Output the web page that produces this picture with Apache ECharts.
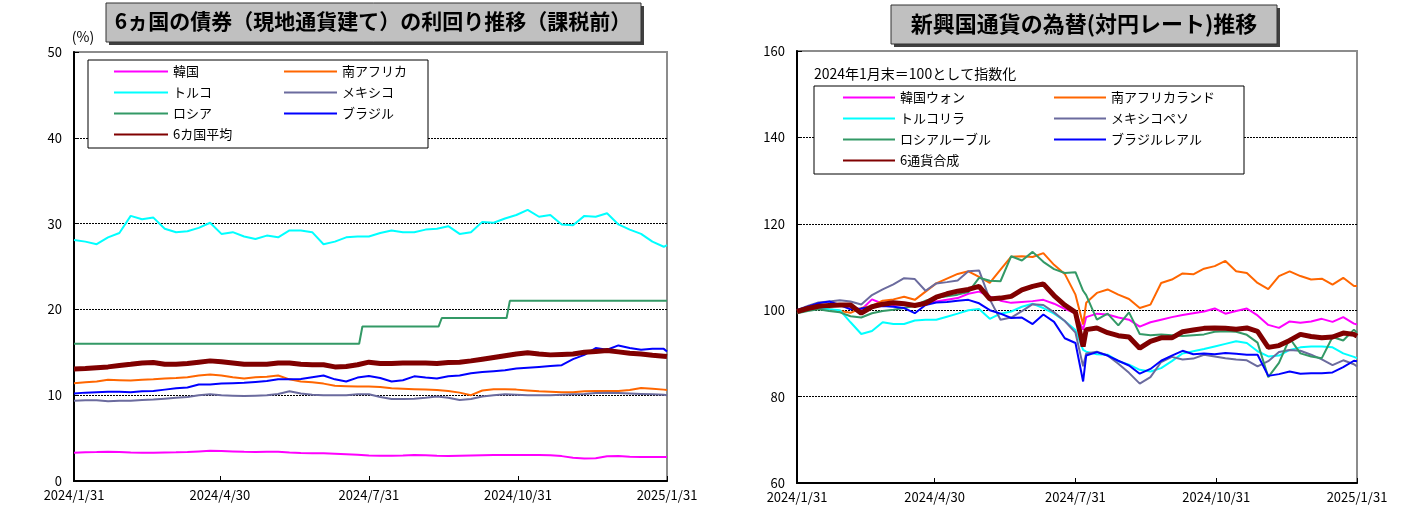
<!DOCTYPE html>
<html><head><meta charset="utf-8">
<script src="https://cdn.jsdelivr.net/npm/echarts@6/dist/echarts.min.js"></script>
<style>html,body{margin:0;padding:0;background:#fff}#c{width:1407px;height:509px}</style>
</head><body><div id="c"></div><script>
const xTickLabels = ['2024/1/31','2024/4/30','2024/7/31','2024/10/31','2025/1/31'];
const xTickDates = ['2024-01-31','2024-04-30','2024-07-31','2024-10-31','2025-01-31'];
const bondTicks = [0,10,20,30,40,50];
const fxTicks = [60,80,100,120,140,160];

const bondNames = ['韓国','南アフリカ','トルコ','メキシコ','ロシア','ブラジル','6カ国平均'];
const fxNames = ['韓国ウォン','南アフリカランド','トルコリラ','メキシコペソ','ロシアルーブル','ブラジルレアル','6通貨合成'];

const weekDates = ['2024-01-31','2024-02-07','2024-02-14','2024-02-21','2024-02-28','2024-03-06','2024-03-13','2024-03-20','2024-03-27','2024-04-03','2024-04-10','2024-04-17','2024-04-24','2024-05-01','2024-05-08','2024-05-15','2024-05-22','2024-05-29','2024-06-05','2024-06-12','2024-06-19','2024-06-26','2024-07-03','2024-07-10','2024-07-17','2024-07-24','2024-07-31','2024-08-07','2024-08-14','2024-08-21','2024-08-28','2024-09-04','2024-09-11','2024-09-18','2024-09-25','2024-10-02','2024-10-09','2024-10-16','2024-10-23','2024-10-30','2024-11-06','2024-11-13','2024-11-20','2024-11-27','2024-12-04','2024-12-11','2024-12-18','2024-12-25','2025-01-01','2025-01-08','2025-01-15','2025-01-22','2025-01-29','2025-01-31'];

const fxDates = ['2024-01-31','2024-02-07','2024-02-14','2024-02-21','2024-02-28','2024-03-06','2024-03-13','2024-03-20','2024-03-27','2024-04-03','2024-04-10','2024-04-17','2024-04-24','2024-05-01','2024-05-08','2024-05-15','2024-05-22','2024-05-29','2024-06-05','2024-06-12','2024-06-19','2024-06-26','2024-07-03','2024-07-10','2024-07-17','2024-07-24','2024-07-31','2024-08-05','2024-08-07','2024-08-14','2024-08-21','2024-08-28','2024-09-04','2024-09-11','2024-09-18','2024-09-25','2024-10-02','2024-10-09','2024-10-16','2024-10-23','2024-10-30','2024-11-06','2024-11-13','2024-11-20','2024-11-27','2024-12-04','2024-12-11','2024-12-18','2024-12-25','2025-01-01','2025-01-08','2025-01-15','2025-01-22','2025-01-29','2025-01-31'];

// bond yields (%)
const bondKorea = [3.3,3.35,3.38,3.42,3.38,3.32,3.3,3.3,3.32,3.34,3.38,3.45,3.52,3.5,3.45,3.4,3.38,3.42,3.42,3.32,3.26,3.22,3.22,3.18,3.12,3.05,2.97,2.93,2.93,2.97,3.02,3.0,2.94,2.92,2.95,2.98,3.0,3.02,3.03,3.03,3.03,3.03,3.0,2.9,2.72,2.62,2.65,2.88,2.9,2.82,2.8,2.8,2.8,2.8];
const bondSAfrica = [11.4,11.5,11.6,11.8,11.75,11.7,11.8,11.85,11.95,12.0,12.1,12.3,12.4,12.3,12.1,11.95,12.1,12.15,12.3,11.85,11.6,11.5,11.35,11.1,11.05,11.0,11.0,10.95,10.8,10.75,10.7,10.65,10.6,10.5,10.3,10.0,10.55,10.7,10.7,10.65,10.55,10.45,10.4,10.35,10.35,10.45,10.5,10.5,10.5,10.6,10.85,10.75,10.65,10.6];
const bondTurkey = [28.1,27.9,27.6,28.4,28.9,30.9,30.5,30.7,29.4,29.0,29.1,29.5,30.1,28.8,29.0,28.5,28.2,28.6,28.4,29.2,29.2,29.0,27.6,27.9,28.4,28.5,28.5,28.9,29.2,29.0,29.0,29.3,29.4,29.7,28.8,29.0,30.2,30.1,30.6,31.0,31.6,30.8,31.0,29.9,29.8,30.9,30.8,31.2,29.9,29.3,28.8,27.9,27.3,27.5];
const bondMexico = [9.35,9.4,9.4,9.3,9.35,9.35,9.45,9.5,9.6,9.7,9.8,10.0,10.1,10.0,9.95,9.9,9.95,10.0,10.15,10.45,10.2,10.05,10.0,10.0,10.0,10.1,10.1,9.8,9.55,9.55,9.6,9.7,9.85,9.7,9.45,9.55,9.85,10.0,10.1,10.05,10.0,10.0,10.0,10.05,10.1,10.15,10.25,10.3,10.25,10.2,10.15,10.1,10.05,10.0];
const bondBrazil = [10.2,10.3,10.35,10.4,10.4,10.35,10.45,10.5,10.65,10.8,10.9,11.25,11.25,11.35,11.4,11.45,11.55,11.65,11.85,11.85,11.9,12.1,12.3,11.85,11.6,12.05,12.25,12.0,11.6,11.75,12.2,12.05,11.95,12.2,12.3,12.55,12.7,12.8,12.9,13.1,13.2,13.3,13.4,13.5,14.2,14.7,15.5,15.3,15.8,15.5,15.3,15.4,15.4,15.1];
const bondAverage = [13.05,13.1,13.2,13.3,13.45,13.6,13.75,13.8,13.6,13.6,13.7,13.85,14.0,13.9,13.75,13.6,13.6,13.6,13.75,13.75,13.6,13.55,13.55,13.3,13.35,13.55,13.85,13.7,13.7,13.75,13.75,13.75,13.7,13.8,13.85,14.0,14.2,14.4,14.6,14.8,14.95,14.8,14.7,14.75,14.8,15.0,15.1,15.2,15.05,14.9,14.8,14.65,14.55,14.5];
const russiaRateDates = ['2024-01-31','2024-07-25','2024-07-27','2024-09-12','2024-09-14','2024-10-24','2024-10-26','2025-01-31'];
const russiaRateValues = [16,16,18,18,19,19,21,21];

// FX index vs JPY (2024/1 end = 100)
const fxKorea = [100,100.5,100.9,101,101.1,100.8,100.1,102.5,101.5,101.2,101.3,101.4,101.6,102,102.4,102.8,103.8,104.3,103.2,102.2,101.7,101.9,102.1,102.4,101.5,100.3,99.3,95.5,98.4,99.2,99.0,98.3,97.8,96.2,97.2,97.8,98.4,98.9,99.3,99.7,100.4,99.2,99.8,100.4,98.8,96.6,95.9,97.4,97.1,97.4,98.0,97.3,98.4,96.9,96.7];
const fxSAfrica = [100,100.3,100.6,100.2,99.8,99.4,100.5,101.0,102.2,102.5,103.1,102.4,104.3,106.2,107.3,108.4,109.0,107.7,106.3,109.4,112.4,112.5,112.3,113.2,110.5,108.4,103.6,96.7,101.7,104,104.8,103.6,102.6,100.5,101.3,106.3,107.1,108.5,108.3,109.6,110.2,111.4,109,108.6,106.3,104.9,107.9,109,107.9,107.1,107.3,105.9,107.5,105.6,105.6];
const fxTurkey = [99.7,100.3,100.5,100.2,100,97.2,94.5,95.2,97.2,96.8,96.8,97.6,97.8,97.8,98.5,99.2,100,100.3,98,99.2,99.7,100.8,101.5,100.5,99.2,97.5,95.4,90.8,90.4,89.8,89.7,88.2,87.4,86.2,85.8,86.6,88.2,90.0,90.5,91.0,91.6,92.2,92.8,92.4,90.5,89.3,89.5,90.8,91.4,91.6,91.6,91.4,90.0,89.2,88.9];
const fxMexico = [100,101,101.8,102,102.3,102,101.3,103.5,104.8,106,107.4,107.2,104.5,106.2,106.5,106.9,109,109.2,102.5,97.8,98.3,99.8,101.4,101.2,99.5,97.5,94.8,87.0,90.0,90.4,89.5,87.6,85.5,83.0,84.5,88.0,89.2,88.6,88.8,89.7,89.3,88.9,88.6,88.4,87.0,88.2,90.3,90.8,90.6,89.7,88.6,87.3,88.4,87.5,87.0];
const fxRussia = [99.3,99.8,100.2,99.8,99.5,98.6,98.3,99.3,99.8,100.1,100.5,101,102.2,102.9,103.2,103.6,104.2,107.5,106.8,106.7,112.5,111.5,113.5,111.2,109.5,108.6,108.8,104.5,103.5,97.8,99.2,96.5,99.5,94.5,94.2,94.4,94.2,94.0,94.2,94.4,95.0,95.1,95.0,94.3,92.5,84.5,87.8,93.5,90.0,89.3,88.9,93.8,93.0,95.5,94.8];
const fxBrazil = [100,100.8,101.6,102,101.2,100.2,100.4,100.8,101,100.8,100.5,99.3,101.2,101.8,101.9,102.2,102.4,101.6,100,99.2,98.2,98.3,96.8,99.0,97.3,93.5,92.4,83.5,89.5,90.3,89.5,88.3,87.2,85.3,86.4,88.3,89.5,90.6,89.8,90.0,89.8,90.1,89.9,89.7,89.7,84.8,85.2,85.8,85.3,85.4,85.4,85.6,86.8,88.3,88.2];
const fxComposite = [99.7,100.4,100.9,101.1,101.2,101.2,99.3,100.8,101.4,101.7,101.5,101.1,101.6,103,103.8,104.4,104.8,105.5,102.6,102.8,103.2,104.7,105.5,106.1,103.4,101.2,99.5,91.6,95.5,95.9,94.8,94.1,93.8,91.2,92.8,93.6,93.6,95.0,95.4,95.8,95.9,95.8,95.6,95.9,95.1,91.4,91.8,93.0,94.4,93.9,93.6,93.8,94.7,94.4,94.0];

const colors = {kr:'#ff00ff', za:'#ff6600', tr:'#00ffff', mx:'#6b6b9e', ru:'#339966', br:'#0000ff', avg:'#800000'};
const FONT = '"Noto Sans CJK JP", "Noto Sans", sans-serif';

function dayNum(s){ const p = s.split('-').map(Number); return (Date.UTC(p[0],p[1]-1,p[2]) - Date.UTC(2024,0,31)) / 86400000; }
function pairs(dates, vals){ return dates.map((d,i) => [dayNum(d), vals[i]]); }
const tickDays = xTickDates.map(dayNum);
function xLabel(v){ const i = tickDays.indexOf(Math.round(v)); return i >= 0 ? xTickLabels[i] : ''; }

function line(name, dates, vals, color, idx, width){
  return {name, type:'line', xAxisIndex:idx, yAxisIndex:idx, data:pairs(dates, vals), symbol:'none', showSymbol:false,
    color, lineStyle:{color, width:width||2}, itemStyle:{color}, emphasis:{disabled:true}, animation:false};
}

function xAxisCfg(idx){
  return {type:'value', gridIndex:idx, min:0, max:366,
    axisLine:{lineStyle:{color:'#000', width:2}},
    axisTick:{inside:true, length:5, lineStyle:{color:'#000'}, customValues:tickDays},
    axisLabel:{customValues:tickDays, formatter:xLabel, color:'#000', fontSize:13, fontFamily:FONT, margin:8, showMinLabel:true, showMaxLabel:true},
    splitLine:{show:false}};
}
function yAxisCfg(idx, ticks){
  const n = ticks.length;
  const cols = ticks.map((t,i) => (i===0 || i===n-1) ? 'rgba(0,0,0,0)' : '#000');
  return {type:'value', gridIndex:idx, min:ticks[0], max:ticks[n-1], interval:ticks[1]-ticks[0],
    axisLine:{show:true, lineStyle:{color:'#000', width:2}},
    axisTick:{show:true, inside:true, length:5, lineStyle:{color:'#000'}},
    axisLabel:{color:'#000', fontSize:13, fontFamily:FONT, margin:12},
    splitLine:{show:true, lineStyle:{color:cols, type:[2,1], width:1}}};
}

const legendText = {fontSize:13, color:'#000', fontFamily:FONT};
function legend(left, top, data, w){
  return {orient:'vertical', left, top, padding:0, itemWidth:w, itemHeight:14, itemGap:8, data, textStyle:legendText,
    itemStyle:{opacity:0}, selectedMode:false, z:6};
}

const option = {
  animation:false,
  backgroundColor:'#fff',
  title:[
    {text:'6ヵ国の債券（現地通貨建て）の利回り推移（課税前）', left:373, top:11, textAlign:'center', padding:0,
      textStyle:{fontSize:21, fontWeight:'bold', color:'#000', fontFamily:FONT}},
    {text:'新興国通貨の為替(対円レート)推移', left:1084, top:13, textAlign:'center', padding:0,
      textStyle:{fontSize:22, fontWeight:'bold', color:'#000', fontFamily:FONT}}
  ],
  grid:[
    {left:74, top:52, width:593, height:429, show:true, borderColor:'#8c8c8c', borderWidth:2, backgroundColor:'#fff'},
    {left:797, top:51, width:560, height:432, show:true, borderColor:'#8c8c8c', borderWidth:2, backgroundColor:'#fff'}
  ],
  xAxis:[xAxisCfg(0), xAxisCfg(1)],
  yAxis:[yAxisCfg(0, bondTicks), yAxisCfg(1, fxTicks)],
  legend:[
    legend(113, 65, [bondNames[0], bondNames[2], bondNames[4], bondNames[6]], 54),
    legend(283, 65, [bondNames[1], bondNames[3], bondNames[5]], 53),
    legend(842, 91, [fxNames[0], fxNames[2], fxNames[4], fxNames[6]], 52),
    legend(1053, 91, [fxNames[1], fxNames[3], fxNames[5]], 52)
  ],
  graphic:[
    {type:'rect', z:1, shape:{x:109, y:6, width:535, height:39}, style:{fill:'#404040'}},
    {type:'rect', z:2, shape:{x:106, y:3, width:535, height:39}, style:{fill:'#c0c0c0', stroke:'#333', lineWidth:1}},
    {type:'rect', z:1, shape:{x:894, y:8, width:386, height:39}, style:{fill:'#404040'}},
    {type:'rect', z:2, shape:{x:891, y:5, width:386, height:39}, style:{fill:'#c0c0c0', stroke:'#333', lineWidth:1}},
    {type:'rect', z:3, shape:{x:88, y:60, width:340, height:88}, style:{fill:'#fff', stroke:'#000', lineWidth:1}},
    {type:'rect', z:3, shape:{x:814, y:86, width:430, height:88}, style:{fill:'#fff', stroke:'#000', lineWidth:1}},
    {type:'text', z:4, x:83, y:37, style:{text:'(%)', fontSize:14, fill:'#000', fontFamily:FONT, align:'center', verticalAlign:'middle'}},
    {type:'text', z:4, x:814, y:74, style:{text:'2024年1月末＝100として指数化', fontSize:14, fill:'#000', fontFamily:FONT, align:'left', verticalAlign:'middle'}}
  ],
  series:[
    line(bondNames[0], weekDates, bondKorea, colors.kr, 0),
    line(bondNames[1], weekDates, bondSAfrica, colors.za, 0),
    line(bondNames[2], weekDates, bondTurkey, colors.tr, 0),
    line(bondNames[3], weekDates, bondMexico, colors.mx, 0),
    line(bondNames[4], russiaRateDates, russiaRateValues, colors.ru, 0),
    line(bondNames[5], weekDates, bondBrazil, colors.br, 0),
    line(bondNames[6], weekDates, bondAverage, colors.avg, 0, 5),
    line(fxNames[0], fxDates, fxKorea, colors.kr, 1),
    line(fxNames[1], fxDates, fxSAfrica, colors.za, 1),
    line(fxNames[2], fxDates, fxTurkey, colors.tr, 1),
    line(fxNames[3], fxDates, fxMexico, colors.mx, 1),
    line(fxNames[4], fxDates, fxRussia, colors.ru, 1),
    line(fxNames[5], fxDates, fxBrazil, colors.br, 1),
    line(fxNames[6], fxDates, fxComposite, colors.avg, 1, 5)
  ]
};
const chart = echarts.init(document.getElementById('c'), null, {renderer:'canvas'});
chart.setOption(option);
</script></body></html>
